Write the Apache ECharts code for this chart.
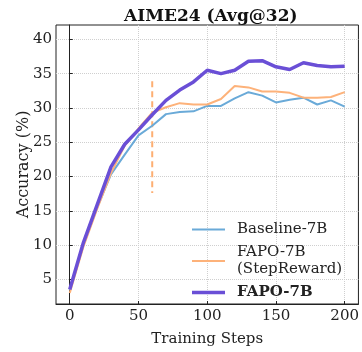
<!DOCTYPE html>
<html>
<head>
<meta charset="utf-8">
<script src="https://cdn.jsdelivr.net/npm/echarts@6/dist/echarts.min.js"></script>
<style>
  html, body { margin: 0; padding: 0; background: #fff; }
  #chart { width: 362px; height: 352px; }
</style>
</head>
<body>
<div id="chart"></div>
<script>
const steps = [0, 10, 20, 30, 40, 50, 60, 70, 80, 90, 100, 110, 120, 130, 140, 150, 160, 170, 180, 190, 200]
const baseline = [3.4, 10.0, 15.5, 20.3, 23.2, 26.0, 27.4, 29.1, 29.4, 29.5, 30.3, 30.3, 31.4, 32.3, 31.8, 30.8, 31.2, 31.5, 30.5, 31.1, 30.2]
const stepReward = [3.0, 9.8, 15.3, 20.5, 24.5, 27.0, 29.3, 30.1, 30.7, 30.5, 30.5, 31.3, 33.2, 33.0, 32.4, 32.4, 32.2, 31.5, 31.5, 31.6, 32.3]
const fapo = [3.5, 10.4, 15.9, 21.4, 24.7, 26.8, 29.0, 31.1, 32.6, 33.8, 35.5, 35.0, 35.5, 36.8, 36.9, 36.0, 35.6, 36.6, 36.2, 36.0, 36.1]
// vertical dashed marker at step 60
const markerStep = 60
const markerRange = [17.6, 33.9]
const xTicks = [0, 50, 100, 150, 200]
const yTicks = [5, 10, 15, 20, 25, 30, 35, 40]

const font = 'DejaVu Serif'
const pair = (ys) => steps.map((s, i) => [s, ys[i]])

const chart = echarts.init(document.getElementById('chart'))
chart.setOption({
  animation: false,
  title: {
    text: 'AIME24 (Avg@32)',
    left: 119,
    top: 3,
    textStyle: { fontFamily: font, fontWeight: 'bold', fontSize: 17, color: '#111' }
  },
  grid: {
    left: 56, right: 2, top: 25, bottom: 38,
    show: true, borderColor: '#222', borderWidth: 1
  },
  legend: {
    orient: 'vertical',
    left: 187,
    top: 216,
    itemWidth: 33,
    itemHeight: 14,
    itemGap: 6,
    symbolKeepAspect: true,
    textStyle: { fontFamily: font, fontSize: 15, color: '#222', lineHeight: 17, padding: [0, 0, 0, 7] },
    data: [
      { name: 'Baseline-7B', icon: 'path://M0,0H33V2H0Z' },
      { name: 'FAPO-7B\n(StepReward)', icon: 'path://M0,0H33V2H0Z' },
      { name: 'FAPO-7B', icon: 'path://M0,0H33V3.5H0Z', textStyle: { fontWeight: 'bold' } }
    ]
  },
  xAxis: {
    type: 'value',
    min: -10,
    max: 210,
    name: 'Training Steps',
    nameLocation: 'middle',
    nameGap: 28,
    nameMoveOverlap: false,
    nameTextStyle: { fontFamily: font, fontSize: 15, color: '#222' },
    axisLine: { lineStyle: { color: '#222', width: 1 } },
    axisTick: { inside: true, length: 3, customValues: xTicks, lineStyle: { color: '#222' } },
    axisLabel: { customValues: xTicks, margin: 5, fontFamily: font, fontSize: 15, color: '#222' },
    splitLine: { show: true, lineStyle: { type: 'dotted', color: '#cfcfcf', width: 1 } }
  },
  yAxis: {
    type: 'value',
    min: 1.4,
    max: 42.1,
    name: 'Accuracy (%)',
    nameLocation: 'middle',
    nameGap: 24,
    nameMoveOverlap: false,
    nameTextStyle: { fontFamily: font, fontSize: 16, color: '#222' },
    axisLine: { show: true, lineStyle: { color: '#222', width: 1 } },
    axisTick: { show: true, inside: true, length: 3, customValues: yTicks, lineStyle: { color: '#222' } },
    axisLabel: { customValues: yTicks, margin: 4, fontFamily: font, fontSize: 15, color: '#222' },
    splitLine: { show: true, lineStyle: { type: 'dotted', color: '#cfcfcf', width: 1 } }
  },
  series: [
    {
      name: 'marker',
      type: 'line',
      symbol: 'none',
      z: 1,
      lineStyle: { color: '#fdae72', width: 2, type: [6, 4] },
      data: [[markerStep, markerRange[1]], [markerStep, markerRange[0]]]
    },
    {
      name: 'Baseline-7B',
      type: 'line',
      symbol: 'none',
      z: 2,
      color: '#6aaad8',
      lineStyle: { color: '#6aaad8', width: 2 },
      data: pair(baseline)
    },
    {
      name: 'FAPO-7B\n(StepReward)',
      type: 'line',
      symbol: 'none',
      z: 3,
      color: '#fdb27a',
      lineStyle: { color: '#fdb27a', width: 2 },
      data: pair(stepReward)
    },
    {
      name: 'FAPO-7B',
      type: 'line',
      symbol: 'none',
      z: 4,
      color: '#6a4fd6',
      lineStyle: { color: '#6a4fd6', width: 3.5 },
      data: pair(fapo)
    }
  ]
})
</script>
</body>
</html>
